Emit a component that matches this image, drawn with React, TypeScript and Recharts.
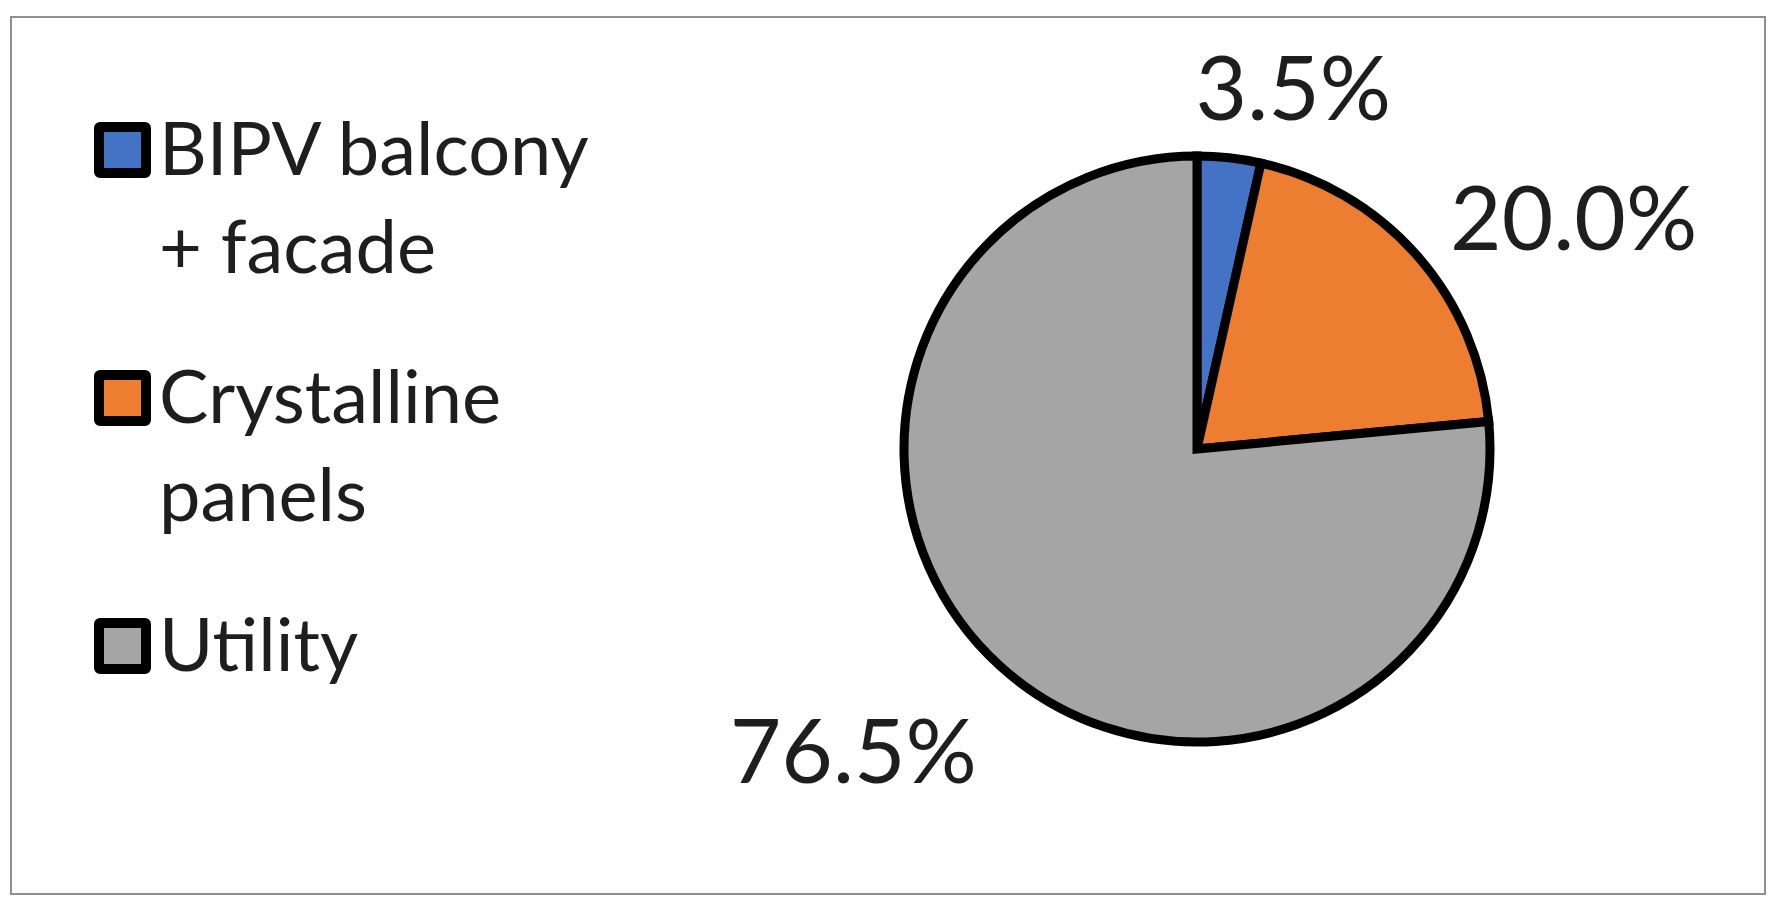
import { PieChart, Pie, Cell, Legend } from 'recharts'

const categories = ['BIPV balcony + facade', 'Crystalline panels', 'Utility']
const shares = [3.5, 20.0, 76.5]
const colors = ['#4472c4', '#ed7d31', '#a5a5a5']

const data = categories.map((name, i) => ({ name, value: shares[i] }))

const RADIAN = Math.PI / 180
const FONT = 'Lato, "Open Sans", sans-serif'
const LABEL_SIZE = 89

// excel-ish "best fit" labels: sit the text box just outside the rim
function renderLabel(props: any) {
  const { cx, cy, midAngle, outerRadius, value } = props
  const text = value.toFixed(1) + '%'
  const a = (midAngle - 8) * RADIAN
  const cos = Math.cos(a)
  const sin = Math.sin(a)
  const hw = (text.length * 0.55 * LABEL_SIZE) / 2
  const hh = 40
  const r = outerRadius + 34 + hw * Math.abs(cos) + hh * Math.abs(sin)
  const x = cx + r * cos
  const y = cy - r * sin
  return (
    <text x={x} y={y + 0.55 * LABEL_SIZE} textAnchor="middle" fill="#1e1e1e"
      fontFamily={FONT} fontSize={LABEL_SIZE}>
      {text}
    </text>
  )
}

function LegendContent({ payload }: any) {
  const items = payload || []
  return (
    <div>
      {items.map((entry: any, i: number) => (
        <div key={entry.value} style={{ display: 'flex', alignItems: 'flex-start', marginBottom: i < items.length - 1 ? 52 : 0 }}>
          <span style={{
            width: 57, height: 56, boxSizing: 'border-box', border: '10px solid #000', borderRadius: 6,
            background: entry.color, marginTop: 24, marginRight: 8, flexShrink: 0,
          }} />
          <span style={{ width: 440, fontFamily: FONT, fontSize: 74, lineHeight: '98px', color: '#1e1e1e' }}>
            {entry.value}
          </span>
        </div>
      ))}
    </div>
  )
}

export default function App() {
  return (
    <div style={{ position: 'absolute', left: 0, top: 0, width: 1776, height: 907, background: '#fff' }}>
      <div style={{
        position: 'absolute', left: 10, top: 16, width: 1752, height: 875,
        border: '2px solid #8f8f8f',
      }} />
      <div style={{ position: 'absolute', left: 0, top: 0 }}>
        <PieChart width={1776} height={907} margin={{ top: 0, right: 0, bottom: 0, left: 0 }}>
          <Pie data={data} dataKey="value" nameKey="name" cx={1197} cy={449} outerRadius={293}
            startAngle={90} endAngle={-270} stroke="#000" strokeWidth={9}
            label={renderLabel} labelLine={false} isAnimationActive={false}>
            {data.map((d, i) => <Cell key={d.name} fill={colors[i]} />)}
          </Pie>
          <Legend layout="vertical" align="right" verticalAlign="top" content={<LegendContent />}
            wrapperStyle={{ left: 94, top: 98, right: 'auto', width: 570 }} />
        </PieChart>
      </div>
    </div>
  )
}
